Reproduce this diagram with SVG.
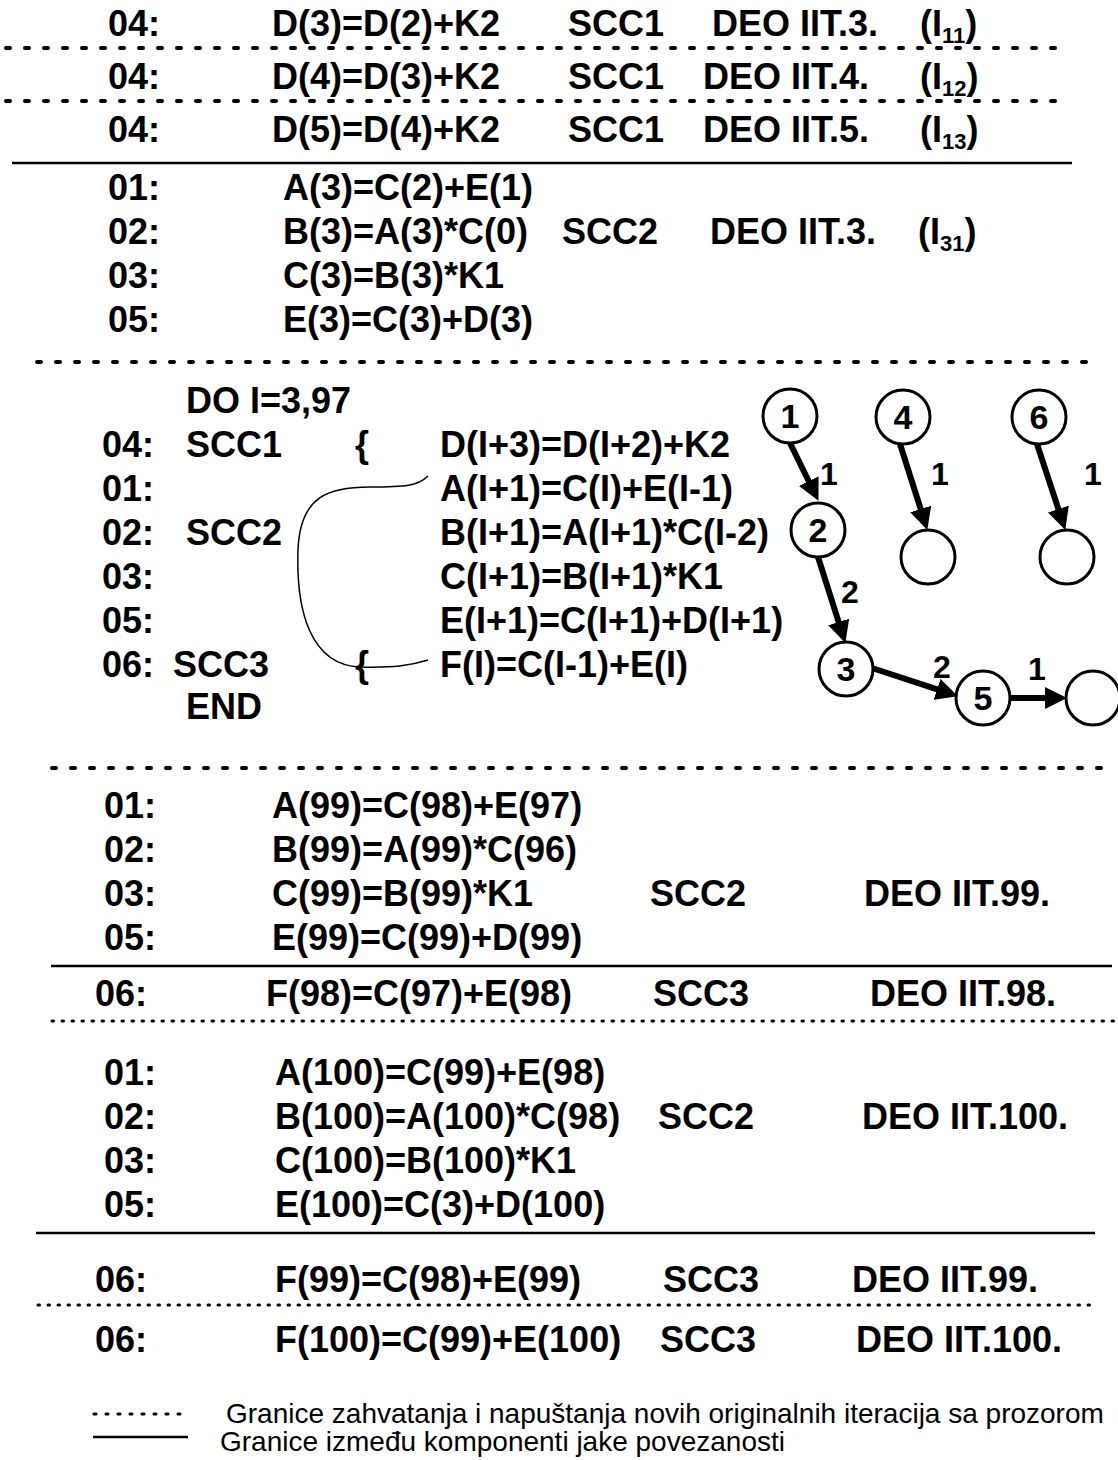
<svg xmlns="http://www.w3.org/2000/svg" width="1118" height="1460" viewBox="0 0 1118 1460">
<defs>
<style>
.t{font-family:"Liberation Sans",Arial,sans-serif;font-weight:bold;font-size:36px;fill:#000}
.sub{font-size:22px}
.lg{font-family:"Liberation Sans",Arial,sans-serif;font-weight:normal;font-size:28px;fill:#000}
.d1{stroke:#000;stroke-width:4;stroke-dasharray:4 15;stroke-linecap:round;fill:none}
.d2{stroke:#000;stroke-width:3;stroke-dasharray:1.5 8.5;stroke-linecap:round;fill:none}
.d3{stroke:#000;stroke-width:3;stroke-dasharray:2 10;stroke-linecap:round;fill:none}
.s{stroke:#000;stroke-width:2.5;fill:none}
.nd{fill:#fff;stroke:#000;stroke-width:3}
.nt{font-family:"Liberation Sans",Arial,sans-serif;font-weight:bold;font-size:34px;text-anchor:middle;fill:#000}
.el{font-family:"Liberation Sans",Arial,sans-serif;font-weight:bold;font-size:32px;text-anchor:middle;fill:#000}
.ar{stroke:#000;stroke-width:6;fill:none;marker-end:url(#ah)}
</style>
<marker id="ah" viewBox="0 0 22 22" refX="9" refY="11" markerWidth="22" markerHeight="22" markerUnits="userSpaceOnUse" orient="auto">
<path d="M0,0 L22,11 L0,22 z" fill="#000"/>
</marker>
</defs>
<rect width="1118" height="1460" fill="#fff"/>

<g id="lines">
<line class="d1" x1="6" y1="48" x2="1065" y2="48"/>
<line class="d1" x1="6" y1="101" x2="1065" y2="101"/>
<line class="s" x1="12" y1="163" x2="1072" y2="163"/>
<line class="d1" x1="37" y1="362" x2="1092" y2="362"/>
<line class="d1" x1="52" y1="768" x2="1105" y2="768"/>
<line class="s" x1="51" y1="966" x2="1112" y2="966"/>
<line class="d2" x1="52" y1="1021" x2="1118" y2="1021"/>
<line class="s" x1="36" y1="1233" x2="1095" y2="1233"/>
<line class="d2" x1="38" y1="1305" x2="1091" y2="1305"/>
</g>

<g id="sec-top">
<text class="t" x="108" y="36">04:</text>
<text class="t" x="272" y="36">D(3)=D(2)+K2</text>
<text class="t" x="568" y="36">SCC1</text>
<text class="t" x="712" y="36">DEO IIT.3.</text>
<text class="t" x="920" y="36">(I<tspan class="sub" dy="7">11</tspan><tspan dy="-7">)</tspan></text>

<text class="t" x="108" y="89">04:</text>
<text class="t" x="272" y="89">D(4)=D(3)+K2</text>
<text class="t" x="568" y="89">SCC1</text>
<text class="t" x="703" y="89">DEO IIT.4.</text>
<text class="t" x="920" y="89">(I<tspan class="sub" dy="7">12</tspan><tspan dy="-7">)</tspan></text>

<text class="t" x="108" y="142">04:</text>
<text class="t" x="272" y="142">D(5)=D(4)+K2</text>
<text class="t" x="568" y="142">SCC1</text>
<text class="t" x="703" y="142">DEO IIT.5.</text>
<text class="t" x="920" y="142">(I<tspan class="sub" dy="7">13</tspan><tspan dy="-7">)</tspan></text>

<text class="t" x="108" y="200">01:</text>
<text class="t" x="283" y="200">A(3)=C(2)+E(1)</text>
<text class="t" x="108" y="244">02:</text>
<text class="t" x="283" y="244">B(3)=A(3)*C(0)</text>
<text class="t" x="562" y="244">SCC2</text>
<text class="t" x="710" y="244">DEO IIT.3.</text>
<text class="t" x="918" y="244">(I<tspan class="sub" dy="7">31</tspan><tspan dy="-7">)</tspan></text>
<text class="t" x="108" y="288">03:</text>
<text class="t" x="283" y="288">C(3)=B(3)*K1</text>
<text class="t" x="108" y="332">05:</text>
<text class="t" x="283" y="332">E(3)=C(3)+D(3)</text>
</g>

<g id="sec-loop">
<text class="t" x="186" y="413">DO I=3,97</text>
<text class="t" x="102" y="457">04:</text>
<text class="t" x="186" y="457">SCC1</text>
<text class="t" x="355" y="457">{</text>
<text class="t" x="440" y="457">D(I+3)=D(I+2)+K2</text>
<text class="t" x="102" y="501">01:</text>
<text class="t" x="440" y="501">A(I+1)=C(I)+E(I-1)</text>
<text class="t" x="102" y="545">02:</text>
<text class="t" x="186" y="545">SCC2</text>
<text class="t" x="440" y="545">B(I+1)=A(I+1)*C(I-2)</text>
<text class="t" x="102" y="589">03:</text>
<text class="t" x="440" y="589">C(I+1)=B(I+1)*K1</text>
<text class="t" x="102" y="633">05:</text>
<text class="t" x="440" y="633">E(I+1)=C(I+1)+D(I+1)</text>
<text class="t" x="102" y="677">06:</text>
<text class="t" x="173" y="677">SCC3</text>
<text class="t" x="355" y="677">{</text>
<text class="t" x="440" y="677">F(I)=C(I-1)+E(I)</text>
<text class="t" x="186" y="719">END</text>
<path class="s" style="stroke-width:1.5" d="M428,476 C418,486 405,487 370,487 C330,487 300,495 298,550 C296,610 310,665 360,667 C395,668 412,665 428,660"/>
</g>

<g id="connectors">
<line class="ar" x1="790" y1="443" x2="812.7" y2="489.2"/>
<line class="ar" x1="900" y1="444" x2="923.4" y2="517.6"/>
<line class="ar" x1="1037" y1="444" x2="1061.2" y2="517.6"/>
<line class="ar" x1="818" y1="557" x2="841.4" y2="630.6"/>
<line class="ar" x1="872" y1="668" x2="945.6" y2="692.2"/>
<line class="ar" x1="1010" y1="698" x2="1054" y2="698"/>
<text class="el" x="829" y="485">1</text>
<text class="el" x="940" y="485">1</text>
<text class="el" x="1093" y="485">1</text>
<text class="el" x="850" y="603">2</text>
<text class="el" x="942" y="678">2</text>
<text class="el" x="1037" y="680">1</text>
</g>

<g id="n1"><circle class="nd" cx="790" cy="416" r="27"/><text class="nt" x="790" y="428">1</text></g>
<g id="n4"><circle class="nd" cx="903" cy="417" r="27"/><text class="nt" x="903" y="429">4</text></g>
<g id="n6"><circle class="nd" cx="1039" cy="417" r="27"/><text class="nt" x="1039" y="429">6</text></g>
<g id="n2"><circle class="nd" cx="818" cy="530" r="27"/><text class="nt" x="818" y="542">2</text></g>
<g id="e4"><circle class="nd" cx="928" cy="557" r="27"/></g>
<g id="e6"><circle class="nd" cx="1067" cy="557" r="27"/></g>
<g id="n3"><circle class="nd" cx="846" cy="669" r="27"/><text class="nt" x="846" y="681">3</text></g>
<g id="n5"><circle class="nd" cx="983" cy="698" r="27"/><text class="nt" x="983" y="710">5</text></g>
<g id="e5"><circle class="nd" cx="1093" cy="698" r="27"/></g>

<g id="sec-end">
<text class="t" x="104" y="818">01:</text>
<text class="t" x="272" y="818">A(99)=C(98)+E(97)</text>
<text class="t" x="104" y="862">02:</text>
<text class="t" x="272" y="862">B(99)=A(99)*C(96)</text>
<text class="t" x="104" y="906">03:</text>
<text class="t" x="272" y="906">C(99)=B(99)*K1</text>
<text class="t" x="650" y="906">SCC2</text>
<text class="t" x="864" y="906">DEO IIT.99.</text>
<text class="t" x="104" y="950">05:</text>
<text class="t" x="272" y="950">E(99)=C(99)+D(99)</text>

<text class="t" x="95" y="1006">06:</text>
<text class="t" x="266" y="1006">F(98)=C(97)+E(98)</text>
<text class="t" x="653" y="1006">SCC3</text>
<text class="t" x="870" y="1006">DEO IIT.98.</text>

<text class="t" x="104" y="1085">01:</text>
<text class="t" x="275" y="1085">A(100)=C(99)+E(98)</text>
<text class="t" x="104" y="1129">02:</text>
<text class="t" x="275" y="1129">B(100)=A(100)*C(98)</text>
<text class="t" x="658" y="1129">SCC2</text>
<text class="t" x="862" y="1129">DEO IIT.100.</text>
<text class="t" x="104" y="1173">03:</text>
<text class="t" x="275" y="1173">C(100)=B(100)*K1</text>
<text class="t" x="104" y="1217">05:</text>
<text class="t" x="275" y="1217">E(100)=C(3)+D(100)</text>

<text class="t" x="95" y="1292">06:</text>
<text class="t" x="275" y="1292">F(99)=C(98)+E(99)</text>
<text class="t" x="663" y="1292">SCC3</text>
<text class="t" x="852" y="1292">DEO IIT.99.</text>

<text class="t" x="95" y="1352">06:</text>
<text class="t" x="275" y="1352">F(100)=C(99)+E(100)</text>
<text class="t" x="660" y="1352">SCC3</text>
<text class="t" x="856" y="1352">DEO IIT.100.</text>
</g>

<g id="legend">
<line class="d3" x1="94" y1="1414" x2="188" y2="1414"/>
<text class="lg" x="226" y="1423">Granice zahvatanja i napuštanja novih originalnih iteracija sa prozorom</text>
<line class="s" x1="93" y1="1437" x2="188" y2="1437"/>
<text class="lg" x="220" y="1451">Granice između komponenti jake povezanosti</text>
</g>
</svg>
